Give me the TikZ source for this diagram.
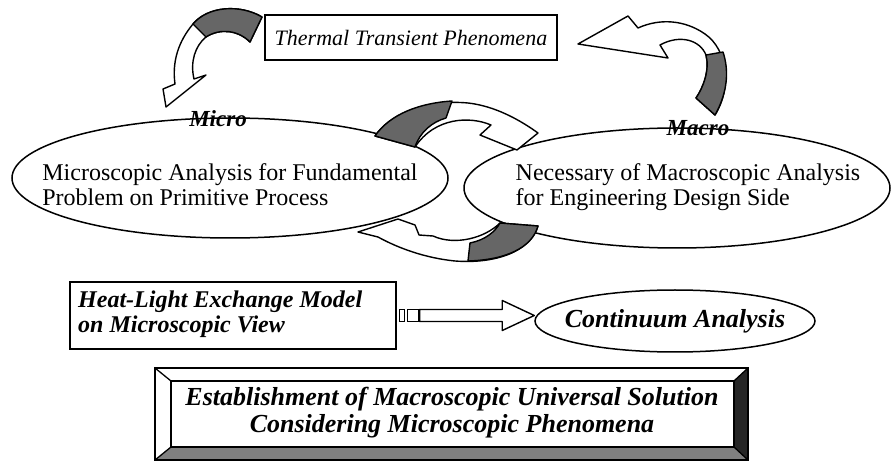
\documentclass[tikz,border=0pt]{standalone}
\usepackage{fontspec}
\setmainfont{Liberation Serif}
\usetikzlibrary{shapes.geometric,calc}

\tikzset{
  oval/.style={draw, ellipse, line width=1.5pt, inner sep=0pt},
  plainbox/.style={draw, line width=1.3pt, inner sep=0pt},
  band/.style={draw, line width=1.4pt, fill=white, line join=round},
  twist/.style={draw, line width=1.4pt, fill=black!60, line join=round},
  tag/.style={font=\fontsize{23}{23}\selectfont\bfseries\itshape, inner sep=0pt},
  plain/.style={font=\fontsize{24}{25}\selectfont, align=left, inner sep=0pt},
  heading/.style={font=\fontsize{24}{25}\selectfont\bfseries\itshape, align=left, inner sep=0pt},
}

\begin{document}
\begin{tikzpicture}[x=1pt, y=-1pt]
\useasboundingbox (0,0) rectangle (892,470);
% the two ovals
\node[oval, minimum width=436pt, minimum height=120pt] (micro) at (230,178) {};
\node[oval, minimum width=426pt, minimum height=120pt] (macro) at (677,188) {};
\node[plainbox, minimum width=292pt, minimum height=45pt, font=\fontsize{22}{22}\selectfont\itshape] (ttp) at (411,37.5) {Thermal Transient Phenomena};
% twisted arrow, box -> micro
\draw[band] (262,17) .. controls (240,4) and (208,6) .. (193,24)
  .. controls (178,42) and (172,62) .. (175,84) -- (163,89) -- (166,107) -- (206,75) -- (194,79)
  .. controls (190,62) and (195,46) .. (206,37) .. controls (220,28) and (238,30) .. (250,42) -- cycle;
\draw[twist] (262,17) .. controls (240,4) and (208,6) .. (193,24) -- (206,37)
  .. controls (220,28) and (238,30) .. (250,42) -- cycle;
% twisted arrow, macro -> box
\draw[band] (715,115) .. controls (732,88) and (728,50) .. (705,34)
  .. controls (685,20) and (660,18) .. (638,28) -- (628,16) -- (578,44) -- (668,58) -- (660,45)
  .. controls (680,34) and (700,40) .. (706,55) .. controls (710,70) and (703,88) .. (696,98) -- cycle;
\draw[twist] (715,115) .. controls (728,92) and (729,70) .. (723,52) -- (706,55)
  .. controls (710,70) and (703,88) .. (696,98) -- cycle;
% exchange between the ovals
\draw[band] (375,136) .. controls (395,108) and (435,100) .. (468,103)
  .. controls (495,106) and (520,120) .. (538,133) -- (517,150) -- (480,135) -- (491,125)
  .. controls (470,116) and (435,117) .. (415,147) -- cycle;
\draw[twist] (375,136) .. controls (390,114) and (420,103) .. (452,101) -- (446,118)
  .. controls (432,122) and (420,132) .. (415,147) -- cycle;
\draw[band] (538,226) .. controls (530,252) and (495,264) .. (455,261)
  .. controls (425,258) and (398,248) .. (378,237) -- (358,232) -- (398,219) -- (415,225)
  -- (419,235) -- (433,236) .. controls (455,246) and (485,238) .. (500,223) -- cycle;
\draw[twist] (538,226) .. controls (532,248) and (505,260) .. (468,261) -- (470,243)
  .. controls (485,240) and (495,232) .. (500,223) -- cycle;
% labels
\node[tag] (microtag) at (218,119) {Micro};
\node[tag] (macrotag) at (698,128) {Macro};
\node[plain] (microtext) at (230,185) {Microscopic Analysis for Fundamental\\Problem on Primitive Process};
\node[plain] (macrotext) at (688,187) {Necessary of Macroscopic Analysis\\for Engineering Design Side};
% heat-light model -> continuum
\node[plainbox, minimum width=326pt, minimum height=67pt] (heat) at (233,315.5) {};
\node[heading, anchor=west] (heattext) at (78,314.5) {Heat-Light Exchange Model\\on Microscopic View};
\node[oval, minimum width=280pt, minimum height=62pt] (cont) at (675,321) {};
\node[font=\fontsize{26}{26}\selectfont\bfseries\itshape] (conttext) at (cont) {Continuum Analysis};
\coordinate (shaft) at ($(heat.east)+(23,0)$);
\coordinate (tip) at (cont.west |- heat.east);
\draw[plainbox] ($(heat.east)+(3,-6)$) rectangle ($(heat.east)+(8,6)$);
\draw[plainbox] ($(heat.east)+(11,-6)$) rectangle ($(heat.east)+(22,6)$);
\draw[band] ($(shaft)+(0,-6)$) -- ($(tip)+(-32,-6)$) -- ($(tip)+(-32,-15)$) -- (tip)
  -- ($(tip)+(-32,15)$) -- ($(tip)+(-32,6)$) -- ($(shaft)+(0,6)$) -- cycle;
% bevelled frame
\fill[black!50] (155,460) -- (171,447) -- (734,447) -- (748,460) -- cycle;
\fill[black!85] (748,368) -- (748,460) -- (734,447) -- (734,381) -- cycle;
\draw[line width=1.3pt] (155,368) rectangle (748,460);
\draw[line width=1.3pt] (171,381) rectangle (734,447);
\draw[line width=1.3pt] (155,368) -- (171,381) (748,368) -- (734,381)
  (155,460) -- (171,447) (748,460) -- (734,447);
\node[font=\fontsize{26}{27}\selectfont\bfseries\itshape, align=center] (est) at (452,413)
  {Establishment of Macroscopic Universal Solution\\Considering Microscopic Phenomena};
\end{tikzpicture}
\end{document}
